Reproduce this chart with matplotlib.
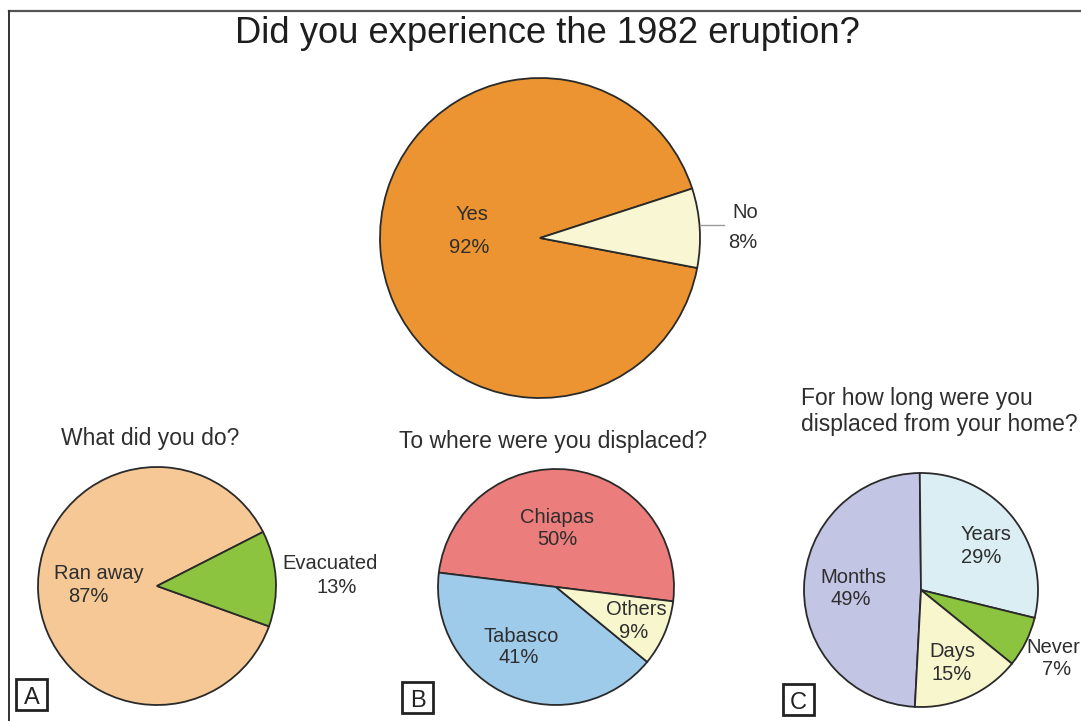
import matplotlib
matplotlib.use("Agg")
import matplotlib.pyplot as plt
from matplotlib.patches import Rectangle

plt.rcParams['font.family'] = ['Liberation Sans', 'DejaVu Sans']

# ---------------- data ----------------
title = "Did you experience the 1982 eruption?"

main_labels = ["Yes", "No"]
main_values = [92, 8]
main_colors = ["#EC9431", "#F8F6D3"]

a_title = "What did you do?"
a_labels = ["Ran away", "Evacuated"]
a_values = [87, 13]
a_colors = ["#F5C896", "#8DC43F"]

b_title = "To where were you displaced?"
b_labels = ["Chiapas", "Tabasco", "Others"]
b_values = [50, 41, 9]
b_colors = ["#EB7D7C", "#9FCBEB", "#F8F6CD"]

c_title = "For how long were you\ndisplaced from your home?"
c_labels = ["Months", "Years", "Never", "Days"]
c_values = [49, 29, 7, 15]
c_colors = ["#C2C6E4", "#DAEEF3", "#8DC43F", "#F8F6CD"]

panel_letters = ["A", "B", "C"]

# ---------------- layout (pixel coords, y from top) ----------------
W, H = 1081, 721
fig = plt.figure(figsize=(W / 100, H / 100), dpi=100)
ax = fig.add_axes([0, 0, 1, 1])
ax.set_xlim(0, W)
ax.set_ylim(0, H)
ax.set_aspect('equal', adjustable='box')
ax.axis('off')


def Y(p):
    return H - p


TXT = "#2e2e2e"
EDGE = "#2a2a2a"
wp = dict(edgecolor=EDGE, linewidth=1.3)

# pies
ax.pie(main_values, colors=main_colors, startangle=18, counterclock=True,
       center=(540, Y(238)), radius=160, wedgeprops=wp, frame=True)
ax.pie(a_values, colors=a_colors, startangle=27, counterclock=True,
       center=(157, Y(586)), radius=119, wedgeprops=wp, frame=True)
ax.pie(b_values, colors=b_colors, startangle=-7, counterclock=True,
       center=(556, Y(587)), radius=118, wedgeprops=wp, frame=True)
ax.pie(c_values, colors=c_colors, startangle=267, counterclock=False,
       center=(921, Y(590)), radius=117, wedgeprops=wp, frame=True)
ax.set_xlim(0, W)
ax.set_ylim(0, H)
ax.axis('off')

# border (top and left)
ax.plot([9, W], [Y(11), Y(11)], color="#555555", lw=1.6, clip_on=False)
ax.plot([9, 9], [Y(11), 0], color="#333333", lw=1.4, clip_on=False)

# title
ax.text(547, Y(43), title, ha='center', va='baseline', fontsize=26.2, color="#1e1e1e")

# subtitles
SUB = 16.5
ax.text(150, Y(445), a_title, ha='center', va='baseline', fontsize=SUB, color=TXT)
ax.text(553, Y(448), b_title, ha='center', va='baseline', fontsize=SUB, color=TXT)
ax.text(801, Y(431.5), c_title, ha='left', va='baseline', fontsize=SUB,
        color=TXT, linespacing=1.22)

LBL = 14.5


def label(name, value, pos_name, pos_val):
    ax.text(pos_name[0], Y(pos_name[1]), name, ha='center', va='baseline',
            fontsize=LBL, color=TXT)
    ax.text(pos_val[0], Y(pos_val[1]), f"{value}%", ha='center', va='baseline',
            fontsize=LBL, color=TXT)


main_pos = [((472, 220), (469, 253)), ((745, 218), (743, 248))]
a_pos = [((99, 579), (88, 602)), ((330, 569), (337, 593))]
b_pos = [((557, 523), (557, 545)), ((521, 642), (519, 663)), ((636, 615), (634, 638))]
c_pos = [((853, 583), (851, 605)), ((986, 540), (981, 563)),
         ((1053, 653), (1057, 675)), ((952, 657), (952, 680))]

for lbls, vals, poss in [(main_labels, main_values, main_pos),
                         (a_labels, a_values, a_pos),
                         (b_labels, b_values, b_pos),
                         (c_labels, c_values, c_pos)]:
    for n, v, p in zip(lbls, vals, poss):
        label(n, v, p[0], p[1])

# leader line for "No"
ax.plot([700, 724], [Y(225), Y(225)], color="#999999", lw=1.0)

# panel letter boxes
for letter, (x0, y0) in zip(panel_letters, [(16, 679), (402, 682), (783, 684)]):
    ax.add_patch(Rectangle((x0, Y(y0 + 31)), 31, 31, fill=False,
                           edgecolor="#222222", lw=2.0))
    ax.text(x0 + 15.5, Y(y0 + 25), letter, ha='center', va='baseline',
            fontsize=17, color="#222222")

fig.savefig("out.png", dpi=100)
